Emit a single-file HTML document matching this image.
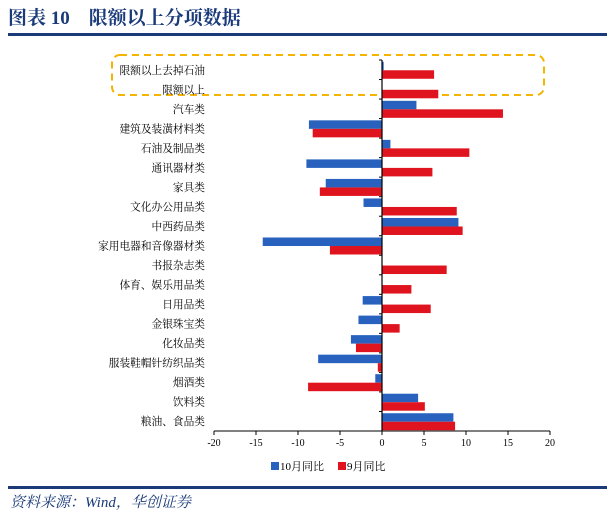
<!DOCTYPE html>
<html><head><meta charset="utf-8"><style>
body{margin:0;width:614px;height:519px;background:#fff;overflow:hidden}
svg{display:block}
</style></head><body>
<svg id="c" width="614" height="519" xmlns="http://www.w3.org/2000/svg" font-family="'Liberation Serif','Noto Serif CJK SC',serif">
<text x="8" y="24" font-size="19" font-weight="bold" fill="#1a3a7a">图表 10　限额以上分项数据</text>
<rect x="8" y="33" width="599" height="3" fill="#1a3a7a"/>
<rect x="112" y="55" width="432" height="40" rx="8" fill="none" stroke="#f4b400" stroke-width="2" stroke-dasharray="7,5"/>
<g id="plot"></g>
<rect x="8" y="486" width="599" height="3" fill="#1a3a7a"/>
<text x="10" y="507" font-size="15" font-style="italic" fill="#1a3a7a">资料来源：Wind，华创证券</text>
</svg>
<script>
const categories=["限额以上去掉石油","限额以上","汽车类","建筑及装潢材料类","石油及制品类","通讯器材类","家具类","文化办公用品类","中西药品类","家用电器和音像器材类","书报杂志类","体育、娱乐用品类","日用品类","金银珠宝类","化妆品类","服装鞋帽针纺织品类","烟酒类","饮料类","粮油、食品类"];
const oct=[0.2,0,4.1,-8.7,1.0,-9.0,-6.7,-2.2,9.1,-14.2,0,0,-2.3,-2.8,-3.7,-7.6,-0.8,4.3,8.5];
const sep=[6.2,6.7,14.4,-8.25,10.4,6.0,-7.4,8.9,9.6,-6.2,7.7,3.5,5.8,2.1,-3.1,-0.5,-8.8,5.1,8.7];
const ticks=[-20,-15,-10,-5,0,5,10,15,20];
const seriesNames=["10月同比","9月同比"];
const NS="http://www.w3.org/2000/svg";
const g=document.getElementById('plot');
const x0=214,x1=550,yTop=60,yBot=431;
const X=v=>x0+(v+20)/40*(x1-x0);
const band=(yBot-yTop)/categories.length;
const Y=i=>yTop+band*i;
function mk(t,a){const e=document.createElementNS(NS,t);for(const k in a)e.setAttribute(k,a[k]);g.appendChild(e);return e;}
const colors=["#2862be","#e0141e"];
categories.forEach((c,i)=>{
  const t=mk('text',{x:205,y:Y(i)+band/2+4,'text-anchor':'end','font-size':10.7,fill:'#000'});
  t.textContent=c;
  
  
  [oct,sep].forEach((arr,s)=>{
    const v=arr[i];
    const r=mk('rect',{x:Math.min(X(0),X(v)),y:Y(i)+band/2-8+s*8.5,width:Math.abs(X(v)-X(0)),height:8.5,fill:colors[s]});
    
    
  });
  const tk=mk('line',{x1:X(0)-3,x2:X(0),y1:Y(i),y2:Y(i),stroke:'#000'});
  
  
});
const za=mk('line',{x1:X(0),x2:X(0),y1:yTop,y2:yBot,stroke:'#000','stroke-width':1.2});


const xa=mk('line',{x1:x0,x2:x1,y1:yBot,y2:yBot,stroke:'#000'});


ticks.forEach(v=>{
  const l=mk('line',{x1:X(v),x2:X(v),y1:yBot,y2:yBot+4,stroke:'#000'});
  
  
  const t=mk('text',{x:X(v),y:yBot+15,'text-anchor':'middle','font-size':10,fill:'#000'});
  t.textContent=v;
  
  
});
seriesNames.forEach((n,s)=>{
  const lx=271+s*67;
  const r=mk('rect',{x:lx,y:462,width:8,height:8,fill:colors[s]});
  
  
  const t=mk('text',{x:lx+9,y:470,'font-size':11,fill:'#000'});
  t.textContent=n;
  
  
});
</script>
</body></html>
